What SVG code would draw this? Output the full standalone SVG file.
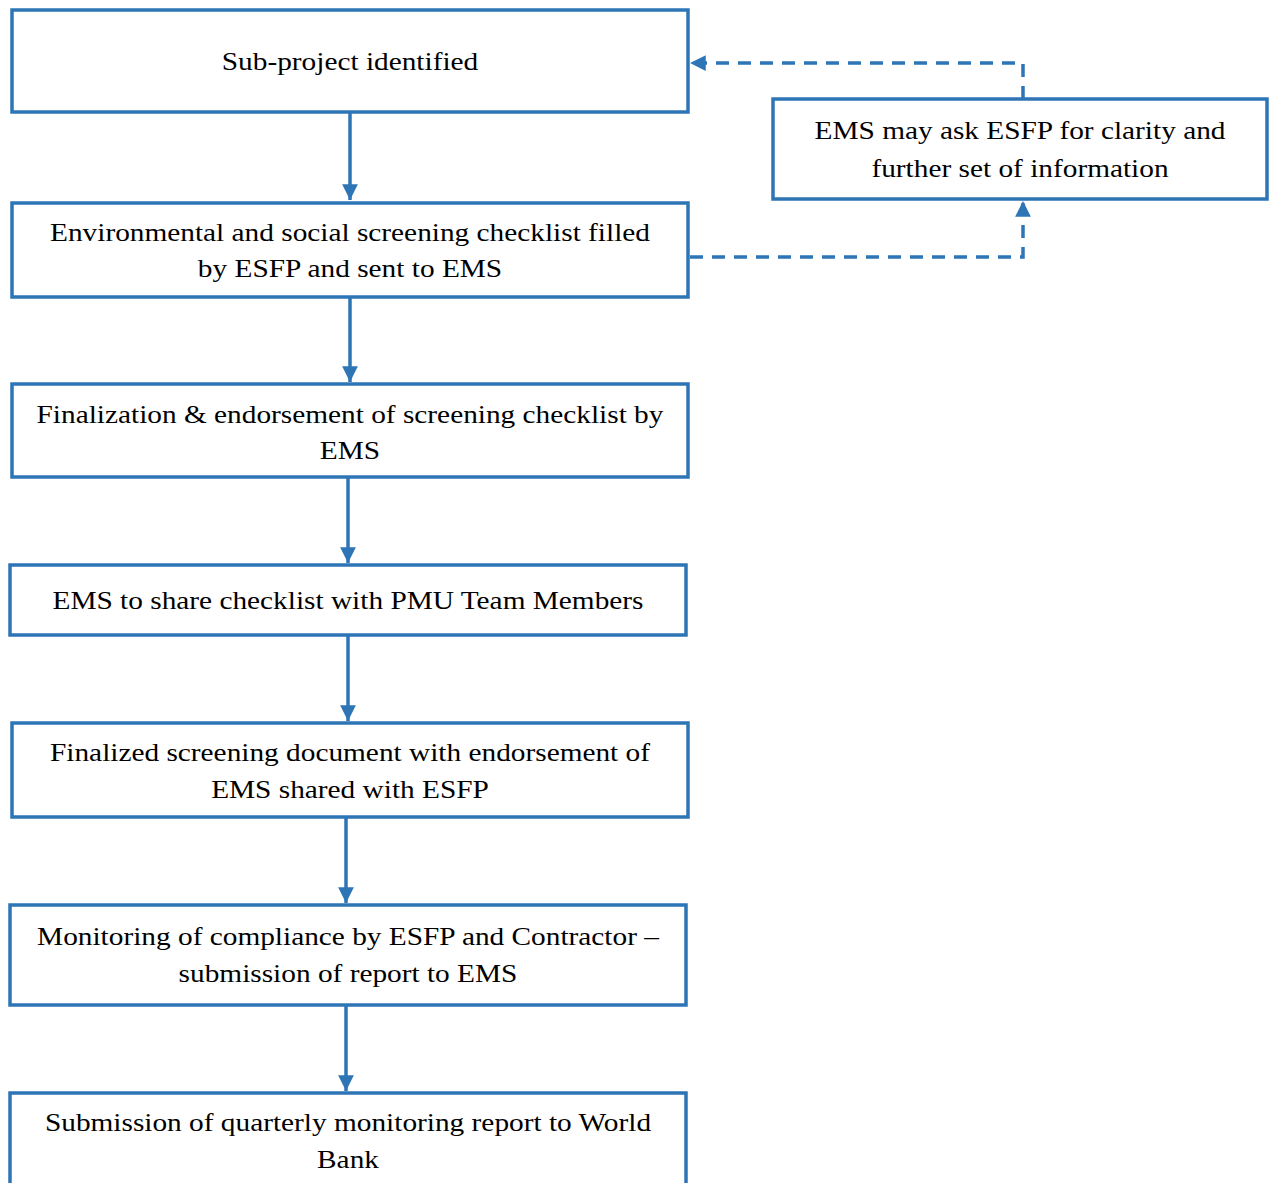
<svg xmlns="http://www.w3.org/2000/svg" width="1276" height="1183" viewBox="0 0 1276 1183">
<defs>
<style>
.box{fill:#fff;stroke:#2E75B6;stroke-width:3.5}
.t{font-family:"Liberation Serif","Times New Roman",serif;font-size:26px;fill:#000;text-anchor:middle}
.c{stroke:#2E75B6;stroke-width:3.5;fill:none}
.d{stroke:#2E75B6;stroke-width:3.5;fill:none;stroke-dasharray:13 9}
</style>
<marker id="ah" viewBox="0 0 10 10" refX="10" refY="5" markerWidth="4.5" markerHeight="4.5" markerUnits="strokeWidth" orient="auto">
<path d="M0,0 L10,5 L0,10 Z" fill="#2E75B6"/>
</marker>
</defs>
<rect width="1276" height="1183" fill="#fff"/>
<g id="connectors">
<line class="c" x1="350" y1="112" x2="350" y2="200" marker-end="url(#ah)"/>
<line class="c" x1="350" y1="297" x2="350" y2="382" marker-end="url(#ah)"/>
<line class="c" x1="348" y1="477" x2="348" y2="563" marker-end="url(#ah)"/>
<line class="c" x1="348" y1="635" x2="348" y2="721" marker-end="url(#ah)"/>
<line class="c" x1="346" y1="817" x2="346" y2="903" marker-end="url(#ah)"/>
<line class="c" x1="346" y1="1005" x2="346" y2="1091" marker-end="url(#ah)"/>
<polyline class="d" points="1023,99 1023,63 690,63" marker-end="url(#ah)"/>
<polyline class="d" points="690,257 1023,257 1023,201" marker-end="url(#ah)"/>
</g>
<g id="n1"><rect class="box" x="12" y="10" width="676" height="102"/><g transform="translate(350,0) scale(1.128,1)"><text class="t" x="0" y="70">Sub-project identified</text></g></g>
<g id="n2"><rect class="box" x="12" y="203" width="676" height="94"/><g transform="translate(350,0) scale(1.128,1)"><text class="t" x="0" y="241">Environmental and social screening checklist filled</text><text class="t" x="0" y="277">by ESFP and sent to EMS</text></g></g>
<g id="n3"><rect class="box" x="12" y="384" width="676" height="93"/><g transform="translate(350,0) scale(1.128,1)"><text class="t" x="0" y="423">Finalization &amp; endorsement of screening checklist by</text><text class="t" x="0" y="459">EMS</text></g></g>
<g id="n4"><rect class="box" x="10" y="565" width="676" height="70"/><g transform="translate(348,0) scale(1.128,1)"><text class="t" x="0" y="609">EMS to share checklist with PMU Team Members</text></g></g>
<g id="n5"><rect class="box" x="12" y="723" width="676" height="94"/><g transform="translate(350,0) scale(1.128,1)"><text class="t" x="0" y="761">Finalized screening document with endorsement of</text><text class="t" x="0" y="798">EMS shared with ESFP</text></g></g>
<g id="n6"><rect class="box" x="10" y="905" width="676" height="100"/><g transform="translate(348,0) scale(1.128,1)"><text class="t" x="0" y="945">Monitoring of compliance by ESFP and Contractor –</text><text class="t" x="0" y="982">submission of report to EMS</text></g></g>
<g id="n7"><rect class="box" x="10" y="1093" width="676" height="120"/><g transform="translate(348,0) scale(1.128,1)"><text class="t" x="0" y="1131">Submission of quarterly monitoring report to World</text><text class="t" x="0" y="1168">Bank</text></g></g>
<g id="n8"><rect class="box" x="773" y="99" width="494" height="100"/><g transform="translate(1020,0) scale(1.128,1)"><text class="t" x="0" y="139">EMS may ask ESFP for clarity and</text><text class="t" x="0" y="177">further set of information</text></g></g>
</svg>
